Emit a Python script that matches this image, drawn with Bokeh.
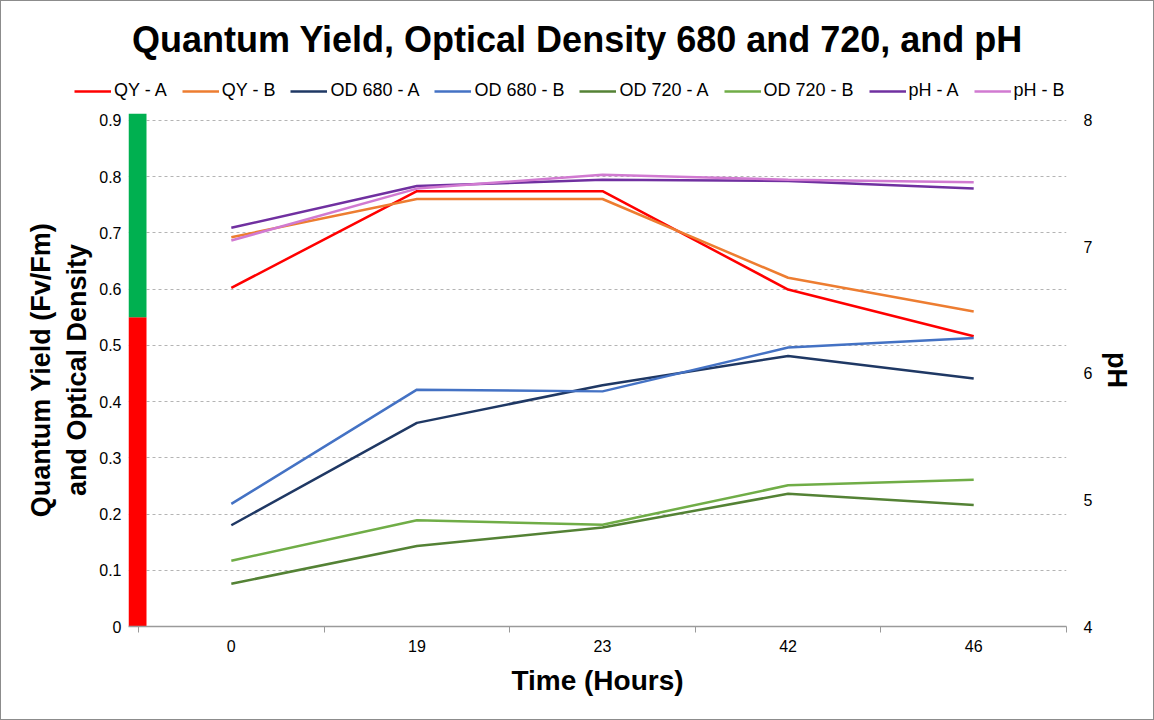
from bokeh.plotting import figure
from bokeh.layouts import column
from bokeh.models import (Range1d, LinearAxis, FixedTicker, NumeralTickFormatter,
                          Legend, LegendItem)
from bokeh.embed import file_html
from bokeh.resources import INLINE

# ---------------- data ----------------
hours = ["0", "19", "23", "42", "46"]
qy_a = [0.602, 0.774, 0.774, 0.599, 0.516]
qy_b = [0.692, 0.760, 0.760, 0.620, 0.560]
od680_a = [0.180, 0.362, 0.429, 0.481, 0.441]
od680_b = [0.218, 0.421, 0.418, 0.496, 0.513]
od720_a = [0.076, 0.143, 0.176, 0.236, 0.216]
od720_b = [0.117, 0.189, 0.181, 0.251, 0.261]
ph_a = [7.15, 7.48, 7.53, 7.52, 7.46]
ph_b = [7.05, 7.46, 7.57, 7.53, 7.51]

band_threshold = 0.55   # red below / green above
band_top = 0.912
left_ticks = [0, 0.1, 0.2, 0.3, 0.4, 0.5, 0.6, 0.7, 0.8, 0.9]
ph_ticks = [4, 5, 6, 7, 8]

series = [
    ("QY - A", qy_a, "#ff0000", "default"),
    ("QY - B", qy_b, "#ed7d31", "default"),
    ("OD 680 - A", od680_a, "#1f3864", "default"),
    ("OD 680 - B", od680_b, "#4472c4", "default"),
    ("OD 720 - A", od720_a, "#548235", "default"),
    ("OD 720 - B", od720_b, "#70ad47", "default"),
    ("pH - A", ph_a, "#7030a0", "ph"),
    ("pH - B", ph_b, "#d17ad1", "ph"),
]

FONT = "Liberation Sans"
W = 1152
xs = list(range(len(hours)))

# ---------------- header: title + legend ----------------
# the header's ranges lie outside every data value, so its series renderers
# serve only as legend keys
head = figure(width=W, height=100, output_backend="svg", toolbar_location=None,
              x_range=Range1d(0, 1), y_range=Range1d(100, 101),
              min_border_left=0, min_border_right=0, min_border_bottom=0,
              min_border_top=58, outline_line_color=None, frame_align=False,
              title="Quantum Yield, Optical Density 680 and 720, and pH")
head.axis.visible = False
head.grid.visible = False
head.title.align = "center"
head.title.text_font = FONT
head.title.text_font_size = "36px"
head.title.text_font_style = "bold"
head.title.text_color = "black"
head.title.standoff = 0

items = []
for name, vals, col, rng in series:
    key = head.line(xs, vals, line_color=col, line_width=2.5)
    items.append(LegendItem(label=name, renderers=[key]))
legend = Legend(items=items, orientation="horizontal", location=(73, 0),
                glyph_width=37, glyph_height=10, label_standoff=3, spacing=15,
                label_text_font=FONT, label_text_font_size="18px",
                label_text_color="black", border_line_color=None,
                background_fill_alpha=0, padding=5, margin=0)
head.add_layout(legend, "center")

# ---------------- main chart ----------------
x_lo = -0.554
y_hi = 0.912
p = figure(width=W, height=618, output_backend="svg", toolbar_location=None,
           x_range=Range1d(x_lo, len(hours) - 0.5), y_range=Range1d(0, y_hi),
           min_border_left=127, min_border_right=87, min_border_top=12,
           min_border_bottom=93, outline_line_color=None, frame_align=False)
p.extra_y_ranges = {"ph": Range1d(4, 4 + y_hi / 0.9 * 4)}

# grid
p.xgrid.visible = False
p.ygrid.ticker = FixedTicker(ticks=left_ticks[1:])
p.ygrid.grid_line_color = "#b4b4b4"
p.ygrid.grid_line_dash = "3 3"
p.ygrid.grid_line_width = 1

# x axis
xa = p.xaxis[0]
xa.ticker = FixedTicker(ticks=xs, minor_ticks=[i - 0.5 for i in xs] + [xs[-1] + 0.5])
xa.major_label_overrides = {i: h for i, h in zip(xs, hours)}
xa.major_tick_line_color = None
xa.major_tick_out = 0
xa.major_tick_in = 0
xa.minor_tick_line_color = "#9a9a9a"
xa.minor_tick_out = 6
xa.minor_tick_in = 0
xa.axis_line_color = "#9a9a9a"
xa.axis_line_width = 1.5
xa.major_label_standoff = 7
xa.major_label_text_font = FONT
xa.major_label_text_font_size = "16px"
xa.major_label_text_color = "black"
xa.axis_label = "Time (Hours)"
xa.axis_label_text_font = FONT
xa.axis_label_text_font_size = "28px"
xa.axis_label_text_font_style = "bold"
xa.axis_label_text_color = "black"
xa.axis_label_standoff = 10

# left axis
ya = p.yaxis[0]
ya.ticker = FixedTicker(ticks=left_ticks)
ya.formatter = NumeralTickFormatter(format="0.[0]")
ya.axis_line_color = None
ya.major_tick_line_color = None
ya.minor_tick_line_color = None
ya.major_tick_out = 0
ya.major_label_standoff = 7
ya.major_label_text_font = FONT
ya.major_label_text_font_size = "16px"
ya.major_label_text_color = "black"
ya.axis_label = "Quantum Yield (Fv/Fm)\nand Optical Density"
ya.axis_label_text_font = FONT
ya.axis_label_text_font_size = "27px"
ya.axis_label_text_font_style = "bold"
ya.axis_label_text_color = "black"
ya.axis_label_standoff = 4

# right axis
ra = LinearAxis(y_range_name="ph", ticker=FixedTicker(ticks=ph_ticks),
                axis_label="pH", axis_label_orientation="vertical")
ra.axis_line_color = None
ra.major_tick_line_color = None
ra.minor_tick_line_color = None
ra.major_tick_out = 0
ra.major_label_standoff = 17
ra.major_label_text_font = FONT
ra.major_label_text_font_size = "16px"
ra.major_label_text_color = "black"
ra.axis_label_text_font = FONT
ra.axis_label_text_font_size = "27px"
ra.axis_label_text_font_style = "bold"
ra.axis_label_text_color = "black"
ra.axis_label_standoff = 7
p.add_layout(ra, "right")

# colour band
p.quad(left=x_lo, right=x_lo + 0.097, bottom=0, top=band_threshold,
       fill_color="#ff0000", line_color=None)
p.quad(left=x_lo, right=x_lo + 0.097, bottom=band_threshold, top=band_top,
       fill_color="#00b050", line_color=None)

for name, vals, col, rng in series:
    p.line(xs, vals, line_color=col, line_width=2.5, y_range_name=rng)

page = column(head, p, spacing=0, styles={"border": "1px solid #8c8c8c"})
open("out.html", "w").write(file_html(page, INLINE))
